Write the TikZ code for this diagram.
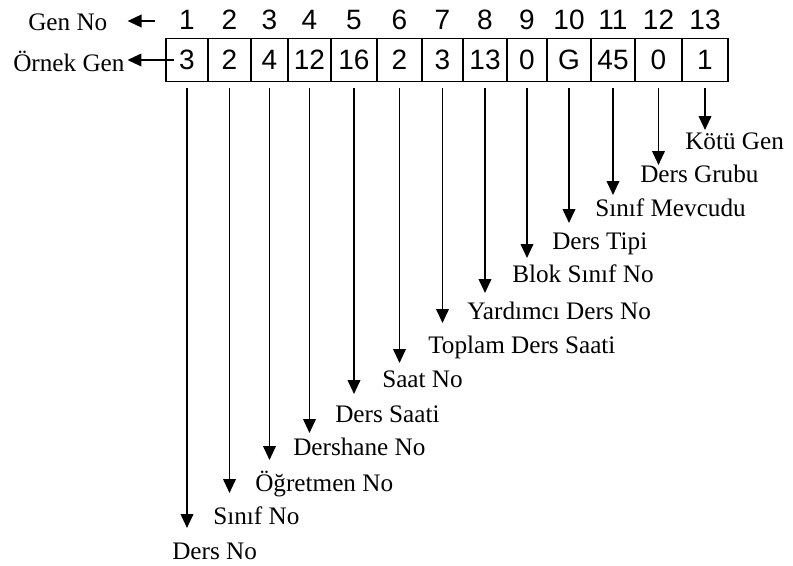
\documentclass[tikz,border=0pt]{standalone}
\usepackage{fontspec}
\setmainfont{Liberation Serif}
\newfontfamily\digitfont{Liberation Sans}
\usetikzlibrary{arrows.meta, positioning}
\tikzset{
    cell/.style={
        rectangle, draw=black, line width=1.3pt,
        minimum height=32.25pt, inner sep=0pt,
        font=\digitfont\fontsize{21}{24}\selectfont
    },
    genno/.style={
        inner sep=0pt, font=\digitfont\fontsize{21}{24}\selectfont
    },
    label/.style={
        anchor=base west, inner sep=0pt,
        font=\fontsize{18.9}{22}\selectfont
    },
    arrow/.style={-{Triangle[width=9.5pt,length=10.5pt]}, line width=1.3pt}
}

\begin{document}
\begin{tikzpicture}[x=0.75pt, y=-0.75pt]
    \useasboundingbox (0,0) rectangle (793,565);

    % Gene cells with their index above
    \foreach \i/\l/\r/\val in {1/166/208/3, 2/208/251/2, 3/251/288/4,
        4/288/331/12, 5/331/377/16, 6/377/422/2, 7/422/463/3,
        8/463/507/13, 9/507/547/0, 10/547/591/G, 11/591/635/45,
        12/635/682/0, 13/682/728/1} {
        \node[cell, minimum width={(\r-\l)*0.75pt}] (cell\i) at ({(\l+\r)/2},60) {\val};
        \node[genno] (num\i) at ({(\l+\r)/2},20) {\i};
    }

    % Row titles on the left
    \node[label] (genno) at (28,30) {Gen No};
    \node[label] (ornek) at (13,71) {Örnek Gen};
    \coordinate (genend) at (155,21);
    \draw[arrow] (genend) -- ([xshift=15pt]genno.east |- genend);
    \draw[arrow] ([xshift=6.75pt]cell1.west) -- ([xshift=2pt]ornek.east |- cell1.west);

    % Meaning of each gene
    \foreach \i/\tip/\x/\y/\txt in {1/528/172/559/Ders No,
        2/493/213/524/Sınıf No, 3/460/255/491/Öğretmen No,
        4/433/293/455/Dershane No, 5/394/335/422/Ders Saati,
        6/363/382/387/Saat No, 7/323/428/353/Toplam Ders Saati,
        8/293/467/319/Yardımcı Ders No, 9/258/512/282/Blok Sınıf No,
        10/223/552/249/Ders Tipi, 11/195/595/216/Sınıf Mevcudu,
        12/165/640/182/Ders Grubu, 13/130/685/149/Kötü Gen} {
        \coordinate (tip\i) at (cell\i.south |- 0,\tip);
        \draw[arrow, shorten <=4.5pt] (cell\i.south) -- (tip\i);
        \node[label] (lab\i) at (\x,\y) {\txt};
    }
\end{tikzpicture}
\end{document}
